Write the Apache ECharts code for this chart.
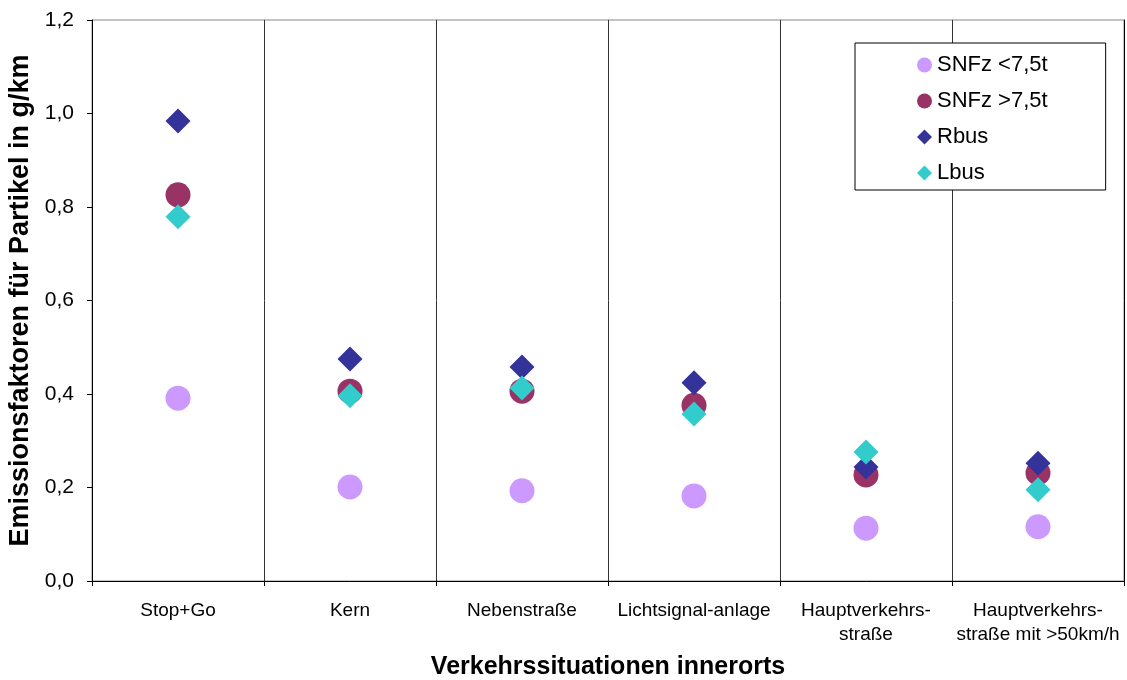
<!DOCTYPE html>
<html>
<head>
<meta charset="utf-8">
<script src="https://cdn.jsdelivr.net/npm/echarts@6/dist/echarts.min.js"></script>
<style>
  html, body { margin: 0; padding: 0; background: #fff; }
  #chart { width: 1127px; height: 680px; }
</style>
</head>
<body>
<div id="chart"></div>
<script>
// Traffic situations (inner-city)
const categories = [
  'Stop+Go',
  'Kern',
  'Nebenstraße',
  'Lichtsignal-anlage',
  'Hauptverkehrs-\nstraße',
  'Hauptverkehrs-\nstraße mit >50km/h'
];

// Particle emission factors in g/km
const snfzLight = [0.391, 0.201, 0.193, 0.182, 0.113, 0.116];
const snfzHeavy = [0.826, 0.406, 0.406, 0.376, 0.227, 0.231];
const rbus      = [0.984, 0.475, 0.458, 0.424, 0.244, 0.252];
const lbus      = [0.779, 0.396, 0.413, 0.357, 0.276, 0.195];

const FONT = '"Liberation Sans", Arial, sans-serif';

const chart = echarts.init(document.getElementById('chart'));

function scatter(name, data, symbol, color) {
  return {
    name: name,
    type: 'scatter',
    data: data,
    symbol: symbol,
    symbolSize: 25,
    itemStyle: { color: color, opacity: 1 },
    emphasis: { disabled: true }
  };
}

chart.setOption({
  animation: false,
  backgroundColor: '#fff',
  textStyle: { fontFamily: FONT },
  grid: {
    left: 92, right: 3, top: 20, bottom: 99,
    outerBoundsMode: 'none',
    containLabel: false,
    show: true, borderColor: '#888', borderWidth: 1
  },
  legend: {
    orient: 'vertical',
    left: 855, top: 43,
    padding: [11, 58, 6, 62],
    itemGap: 14,
    itemWidth: 15, itemHeight: 15,
    borderColor: '#000', borderWidth: 1,
    backgroundColor: '#fff',
    textStyle: { fontFamily: FONT, fontSize: 22, color: '#000', lineHeight: 22 },
    data: [
      { name: 'SNFz <7,5t', icon: 'circle' },
      { name: 'SNFz >7,5t', icon: 'circle' },
      { name: 'Rbus', icon: 'diamond' },
      { name: 'Lbus', icon: 'diamond' }
    ]
  },
  xAxis: {
    type: 'category',
    data: categories,
    boundaryGap: true,
    name: 'Verkehrssituationen innerorts',
    nameLocation: 'middle',
    nameGap: 74,
    nameTextStyle: { fontFamily: FONT, fontSize: 25, fontWeight: 'bold', color: '#000' },
    axisLine: { lineStyle: { color: '#000', width: 1 } },
    axisTick: { show: true, length: 5, lineStyle: { color: '#000' } },
    axisLabel: { fontFamily: FONT, fontSize: 19, color: '#000', margin: 18, lineHeight: 24, interval: 0 },
    splitLine: { show: true, lineStyle: { color: '#333', width: 1 } }
  },
  yAxis: [{
    type: 'value',
    min: 0, max: 1.2, interval: 0.2,
    name: 'Emissionsfaktoren für Partikel in g/km',
    nameLocation: 'middle',
    nameGap: 57,
    nameTextStyle: { fontFamily: FONT, fontSize: 27, fontWeight: 'bold', color: '#000' },
    axisLine: { show: true, lineStyle: { color: '#000', width: 1 } },
    axisTick: { show: true, length: 5, lineStyle: { color: '#000' } },
    axisLabel: {
      fontFamily: FONT, fontSize: 21, color: '#000', margin: 18,
      formatter: v => v.toFixed(1).replace('.', ',')
    },
    splitLine: { show: false }
  }, {
    type: 'value',
    position: 'right',
    min: 0, max: 1.2, interval: 0.2,
    axisLine: { show: true, lineStyle: { color: '#000', width: 1 } },
    axisTick: { show: false },
    axisLabel: { show: false },
    splitLine: { show: false }
  }],
  series: [
    scatter('SNFz <7,5t', snfzLight, 'circle', '#CC99FF'),
    scatter('SNFz >7,5t', snfzHeavy, 'circle', '#993366'),
    scatter('Rbus', rbus, 'diamond', '#333399'),
    scatter('Lbus', lbus, 'diamond', '#33CCCC')
  ]
});
</script>
</body>
</html>
